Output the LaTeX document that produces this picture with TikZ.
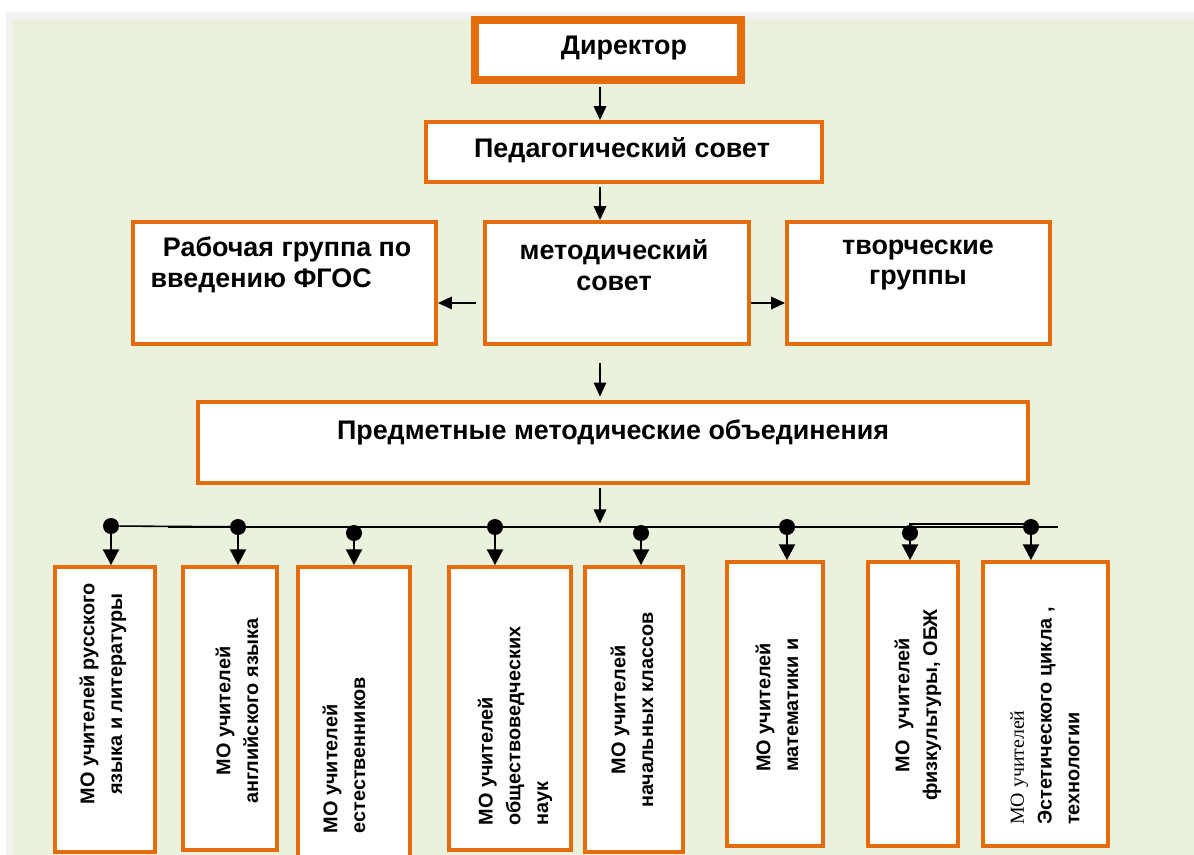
\documentclass[tikz,border=0pt]{standalone}
\usepackage{fontspec}
\setmainfont{Liberation Sans}
\newfontfamily\tnr{Liberation Serif}
\usetikzlibrary{arrows.meta,positioning}
\definecolor{orng}{RGB}{228,108,10}
\definecolor{bggreen}{RGB}{234,241,221}
\definecolor{bggrey}{RGB}{242,242,242}

\begin{document}
\begin{tikzpicture}[x=0.02cm,y=-0.02cm,
    box/.style 2 args={draw=orng, line width=2.1pt, fill=white, inner sep=0pt,
        minimum width=#1*0.02cm, minimum height=#2*0.02cm},
    txt/.style={font=\bfseries\fontsize{15.3}{17}\selectfont, align=center, inner sep=0pt},
    vtxt/.style={font=\bfseries\fontsize{11.3}{15.8}\selectfont, rotate=90, inner sep=0pt},
    arr/.style={line width=1.3pt, -{Triangle[length=8pt,width=7pt]}},
    darr/.style={line width=1.5pt, -{Triangle[length=9pt,width=9pt]}},
    bus/.style={line width=0.9pt},
    dot/.style={circle, fill, inner sep=0pt, minimum size=16*0.02cm}]

	\useasboundingbox (0,0) rectangle (1194,855);
	\fill[bggrey] (6,12) rectangle (1194,855);
	\fill[bggreen] (13,20) rectangle (1194,855);

	% upper part
	\node[box={266}{60}, line width=4pt] (dir) at (608,50) {};
	\node[txt] (dirT) at (624,48) {Директор};
	\node[box={396}{60}] (ped) at (624,152) {};
	\node[txt] (pedT) at (622,150) {Педагогический совет};

	\node[box={303}{122}] (rab) at (284.5,283) {};
	\node[txt, align=left, font=\bfseries\fontsize{15.3}{17.5}\selectfont] (rabT) at (281,265) {\hspace*{7pt}Рабочая группа по\\введению ФГОС};
	\node[box={264}{122}] (met) at (617,283) {};
	\node[txt, font=\bfseries\fontsize{15.3}{17.5}\selectfont] (metT) at (614,265) {методический\\совет};
	\node[box={263}{122}] (tvor) at (918.5,283) {};
	\node[txt, font=\bfseries\fontsize{15.3}{17.5}\selectfont] (tvorT) at (918,265) {творческие\\группы};

	\node[box={830}{81}] (pmo) at (613,442.5) {};
	\node[txt] (pmoT) at (613,432) {Предметные методические объединения};

	\coordinate (ax) at (600,0);
	\coordinate (ay) at (0,303);
	\draw[arr, shorten <=2pt] (dir.south -| ax) -- (ped.north -| ax);
	\draw[arr, shorten <=2pt] (ped.south -| ax) -- (met.north -| ax);
	\draw[arr, shorten <=4pt] (met.west |- ay) -- (rab.east |- ay);
	\draw[arr] (met.east |- ay) -- (tvor.west |- ay);
	\draw[arr, shorten <=10pt, shorten >=2pt] (met.south -| ax) -- (pmo.north -| ax);

	% bus
	\coordinate (bus) at (600,527);
	\coordinate (bl) at (168,527);
	\coordinate (br) at (1058,527);
	\coordinate (bk) at (262,527);
	\coordinate (b2l) at (909,524);
	\coordinate (b2r) at (1028,524);
	\draw[arr, shorten <=2pt, shorten >=2pt] (pmo.south -| ax) -- (bus);
	\draw[bus] (bl) -- (br);
	\draw[bus] (b2l) -- (b2r);

	\node[dot] (d1) at (111,526) {};
	\node[dot] (d2) at (238,527) {};
	\node[dot] (d3) at (354,533) {};
	\node[dot] (d4) at (495,527) {};
	\node[dot] (d5) at (641,533) {};
	\node[dot] (d6) at (787,527) {};
	\node[dot] (d7) at (910,533) {};
	\node[dot] (d8) at (1031,527) {};
	\draw[bus] (d1) -- (bk);

	% MO boxes
	\node[box={100}{285}] (m1) at (105,709.5) {};
	\node[box={94}{283}] (m2) at (230,708.5) {};
	\node[box={112}{290}] (m3) at (354,712) {};
	\node[box={122}{283}] (m4) at (510,708.5) {};
	\node[box={98}{285}] (m5) at (634,709.5) {};
	\node[box={96}{284}] (m6) at (775,704) {};
	\node[box={90}{284}] (m7) at (913,704) {};
	\node[box={125}{284}] (m8) at (1045.5,704) {};

	\draw[darr] (d1) -- (m1.north -| d1);
	\draw[darr] (d2) -- (m2.north -| d2);
	\draw[darr] (d3) -- (m3.north -| d3);
	\draw[darr] (d4) -- (m4.north -| d4);
	\draw[darr] (d5) -- (m5.north -| d5);
	\draw[darr] (d6) -- (m6.north -| d6);
	\draw[darr] (d7) -- (m7.north -| d7);
	\draw[darr] (d8) -- (m8.north -| d8);

	\node[vtxt, align=center] (m1T) at (103,694) {МО учителей русского\\языка и литературы};
	\node[vtxt, align=center] (m2T) at (237,711) {МО учителей\\английского языка};
	\node[vtxt, align=left] (m3T) at (344,755) {МО учителей\\естественников};
	\node[vtxt, align=left] (m4T) at (515,726) {МО учителей\\обществоведческих\\наук};
	\node[vtxt, align=center] (m5T) at (632,710) {МО учителей\\начальных классов};
	\node[vtxt, align=left] (m6T) at (777,705) {МО учителей\\математики и};
	\node[vtxt, align=center] (m7T) at (918,705) {МО\ \ учителей\\физкультуры, ОБЖ};
	\node[vtxt, align=left] (m8T) at (1045,716) {{\tnr\mdseries МО учителей}\\Эстетического цикла ,\\технологии};

\end{tikzpicture}
\end{document}
